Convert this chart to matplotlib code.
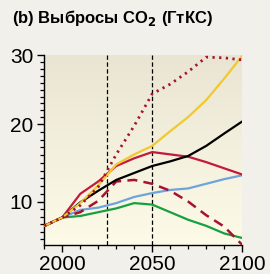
import numpy as np
import matplotlib
matplotlib.use("Agg")
import matplotlib.pyplot as plt
from matplotlib.ticker import MultipleLocator, FixedLocator
from matplotlib.colors import LinearSegmentedColormap

plt.rcParams['font.family'] = ['Liberation Sans', 'DejaVu Sans']

years = [1990, 2000, 2010, 2020, 2030, 2040, 2050, 2060, 2070, 2080, 2090, 2100]
black = [6.8, 7.9, 9.9, 11.4, 12.8, 13.7, 14.6, 15.2, 15.9, 17.2, 18.8, 20.4]
yellow = [6.8, 7.9, 9.8, 12.1, 14.8, 16.1, 17.2, 19.1, 21.05, 23.5, 26.6, 29.9]
red = [6.8, 7.9, 11.0, 12.6, 14.6, 15.6, 16.4, 16.1, 15.8, 15.1, 14.3, 13.5]
blue = [6.8, 7.9, 8.9, 9.2, 9.8, 10.6, 11.1, 11.5, 11.7, 12.3, 12.9, 13.4]
green = [6.8, 7.9, 8.1, 8.6, 9.1, 9.8, 9.6, 8.6, 7.6, 6.8, 5.8, 5.2]
red_dashed = [6.8, 7.9, 8.6, 10.1, 12.6, 12.8, 12.3, 11.4, 10.0, 8.2, 6.7, 4.3]
red_dotted = [6.8, 7.9, 9.5, 11.9, 16.1, 19.8, 24.4, 25.8, 27.6, 29.7, 29.6, 29.3]
vlines = [2025, 2050]
xticks = [2000, 2050, 2100]
yticks = [10, 20, 30]
title = "(b) Выбросы CO$_\\mathbf{2}$ (ГтКС)"

# piecewise axis scale (as drawn in the original figure)
_vals = np.array([-10.0, 10.0, 20.0, 30.0, 50.0])
_pix = np.array([-108.5, 43.5, 121.0, 190.3, 328.9])
def fwd(v):
    return np.interp(v, _vals, _pix)
def inv(p):
    return np.interp(p, _pix, _vals)

fig = plt.figure(figsize=(2.70, 2.74), dpi=100, facecolor='#f1f0eb')
ax = fig.add_axes([0.164, 0.106, 0.733, 0.693])
ax.set_yscale('function', functions=(fwd, inv))
ax.set_xlim(1990, 2100)
ax.set_ylim(4.28, 30)

cmap = LinearSegmentedColormap.from_list('bg', ['#e9e5d2', '#fdfbe8'])
grad = np.linspace(0, 1, 256).reshape(-1, 1)
ax.imshow(grad, cmap=cmap, aspect='auto', extent=[0, 1, 0, 1],
          transform=ax.transAxes, zorder=0)

for v in vlines:
    ax.axvline(v, color='black', lw=0.9, ls=(0, (3.5, 2)), zorder=1)

ax.plot(years, green, color='#17a040', lw=1.6, zorder=3)
ax.plot(years, blue, color='#6fa3dc', lw=1.6, zorder=3)
ax.plot(years, red_dashed, color='#a8122f', lw=1.8, ls=(0, (4, 2.5)), zorder=3)
ax.plot(years, red, color='#c21a38', lw=1.6, zorder=3)
ax.plot(years, black, color='black', lw=1.6, zorder=4)
ax.plot(years, yellow, color='#f2c830', lw=1.6, zorder=4)
ax.plot(years, red_dotted, color='#a8122f', lw=2.0, ls=(0, (0.8, 1.6)), zorder=5)

for s in ['top', 'right']:
    ax.spines[s].set_visible(False)
ax.spines['left'].set_linewidth(1.0)
ax.spines['bottom'].set_linewidth(1.0)

ax.xaxis.set_major_locator(FixedLocator(xticks))
ax.xaxis.set_minor_locator(MultipleLocator(10))
ax.yaxis.set_major_locator(FixedLocator(yticks))
ax.yaxis.set_minor_locator(MultipleLocator(1))
ax.tick_params(which='major', direction='out', length=5, width=1.0,
               labelsize=15, pad=2)
ax.tick_params(which='minor', direction='out', length=3, width=0.9)
ax.tick_params(axis='y', which='major', pad=3)

fig.text(0.045, 0.935, title, fontsize=12, fontweight='bold',
         ha='left', va='center')

fig.savefig('out.png', dpi=100, facecolor=fig.get_facecolor())
